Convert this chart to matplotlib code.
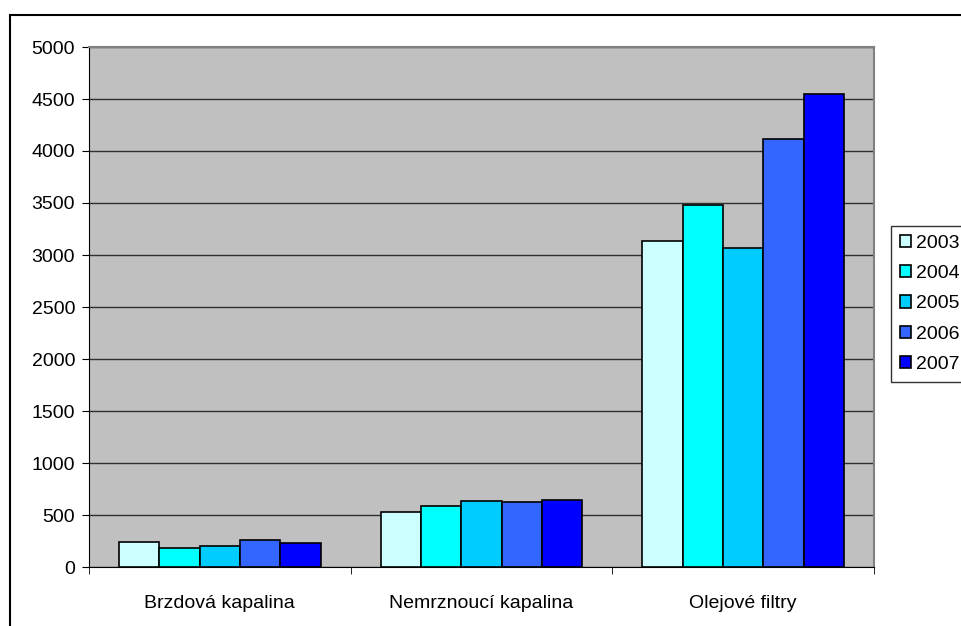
import numpy as np
import matplotlib.pyplot as plt
from matplotlib.patches import Rectangle

categories = ['Brzdová kapalina', 'Nemrznoucí kapalina', 'Olejové filtry']
years = ['2003', '2004', '2005', '2006', '2007']
values = {
    '2003': [243, 529, 3134],
    '2004': [183, 589, 3485],
    '2005': [199, 638, 3071],
    '2006': [257, 622, 4118],
    '2007': [234, 640, 4544],
}
colors = ['#CCFFFF', '#00FFFF', '#00CCFF', '#3366FF', '#0000FF']

plt.rcParams['font.family'] = ['Liberation Sans', 'DejaVu Sans']

fig = plt.figure(figsize=(9.62, 6.26), dpi=100)
ax = fig.add_axes([89 / 962, 59 / 626, 785 / 962, 520 / 626])
ax.set_facecolor('#C0C0C0')

# outer chart frame (only top and left edges are visible)
fig.add_artist(Rectangle((9.5 / 962, -0.1), 1.2, (626 - 14.5) / 626 + 0.1,
                         transform=fig.transFigure, fill=False,
                         edgecolor='black', linewidth=1.5))

x = np.arange(len(categories))
w = 0.154
for i, yr in enumerate(years):
    ax.bar(x + (i - 2) * w, values[yr], width=w, color=colors[i],
           edgecolor='black', linewidth=1.2, label=yr, zorder=3)

ax.set_xlim(-0.5, 2.5)
ax.set_ylim(0, 5000)
ax.set_yticks(range(0, 5001, 500))
ax.yaxis.grid(True, color='#303030', linewidth=1, zorder=0)
ax.set_xticks(x)
ax.set_xticklabels(categories)
ax.set_xticks([-0.5, 0.5, 1.5, 2.5], minor=True)
ax.tick_params(axis='x', which='major', length=0, pad=20, labelsize=14)
ax.tick_params(axis='x', which='minor', length=5, direction='out')
ax.tick_params(axis='y', length=5, direction='out', labelsize=14, pad=5)

for s in ['top', 'right']:
    ax.spines[s].set_color('#808080')
    ax.spines[s].set_linewidth(1.5)
ax.spines['left'].set_color('black')
ax.spines['bottom'].set_color('black')

leg = ax.legend(loc='upper left', bbox_to_anchor=(891 / 962, 1 - 226 / 626),
                bbox_transform=fig.transFigure, frameon=True, fancybox=False,
                edgecolor='black', fontsize=14, handlelength=0.6,
                handleheight=0.6, handletextpad=0.25, labelspacing=0.68,
                borderpad=0.45, borderaxespad=0)
leg.get_frame().set_linewidth(1)

fig.savefig('out.png', dpi=100)
